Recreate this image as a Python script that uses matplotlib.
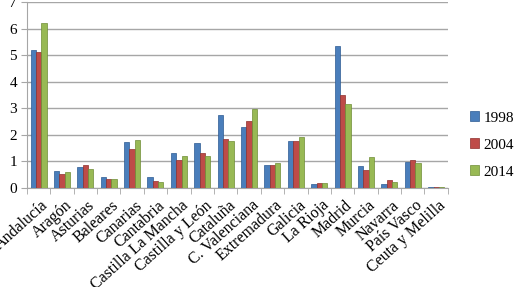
import matplotlib
matplotlib.use("Agg")
import matplotlib.pyplot as plt
import numpy as np

categories = ["Andalucía", "Aragón", "Asturias", "Baleares", "Canarias", "Cantabria",
              "Castilla La Mancha", "Castilla y León", "Cataluña", "C. Valenciana",
              "Extremadura", "Galicia", "La Rioja", "Madrid", "Murcia", "Navarra",
              "País Vasco", "Ceuta y Melilla"]
v1998 = [5.19, 0.62, 0.77, 0.40, 1.72, 0.40, 1.29, 1.70, 2.74, 2.29, 0.85, 1.77, 0.13, 5.33, 0.81, 0.13, 0.98, 0.03]
v2004 = [5.13, 0.53, 0.84, 0.32, 1.44, 0.26, 1.03, 1.30, 1.84, 2.52, 0.85, 1.77, 0.18, 3.48, 0.65, 0.28, 1.05, 0.04]
v2014 = [6.20, 0.58, 0.71, 0.34, 1.80, 0.23, 1.21, 1.21, 1.75, 2.97, 0.94, 1.93, 0.16, 3.15, 1.16, 0.22, 0.93, 0.03]
series = ["1998", "2004", "2014"]
colors = ["#4A7EBB", "#BE4B48", "#98B954"]
edges = ["#2C5A92", "#8E2F2D", "#6E8C35"]

plt.rcParams['font.family'] = ['Liberation Serif', 'DejaVu Serif']

fig = plt.figure(figsize=(5.16, 2.87), dpi=100)
ax = fig.add_axes([0.052, 0.346, 0.816, 0.647])

x = np.arange(len(categories))
w = 0.228
for i, (vals, c, e, lab) in enumerate(zip([v1998, v2004, v2014], colors, edges, series)):
    ax.bar(x + (i - 1) * w, vals, w, color=c, edgecolor=e, linewidth=0.5, label=lab, zorder=3)

ax.set_xlim(-0.5, len(categories) - 0.5)
ax.set_ylim(0, 7)
ax.set_yticks(range(8))
ax.yaxis.grid(True, color="#A6A6A6", linewidth=1.0, zorder=0)
ax.set_axisbelow(True)
for s in ["top", "right"]:
    ax.spines[s].set_visible(False)
for s in ["left", "bottom"]:
    ax.spines[s].set_color("#A6A6A6")
ax.tick_params(axis='y', length=4, color="#A6A6A6", labelsize=11, pad=3)
ax.set_xticks(x + 0.1)
ax.set_xticklabels(categories, rotation=42, ha='right', rotation_mode='anchor', fontsize=11.5)
ax.tick_params(axis='x', which='major', length=0, pad=7)
ax.set_xticks(np.arange(-0.5, len(categories)), minor=True)
ax.tick_params(axis='x', which='minor', length=4, color="#A6A6A6")

leg = ax.legend(loc='center left', bbox_to_anchor=(1.02, 0.23), frameon=False, fontsize=11,
                handlelength=0.6, handleheight=0.6, handletextpad=0.3, labelspacing=0.9)

fig.savefig("out.png", dpi=100)
